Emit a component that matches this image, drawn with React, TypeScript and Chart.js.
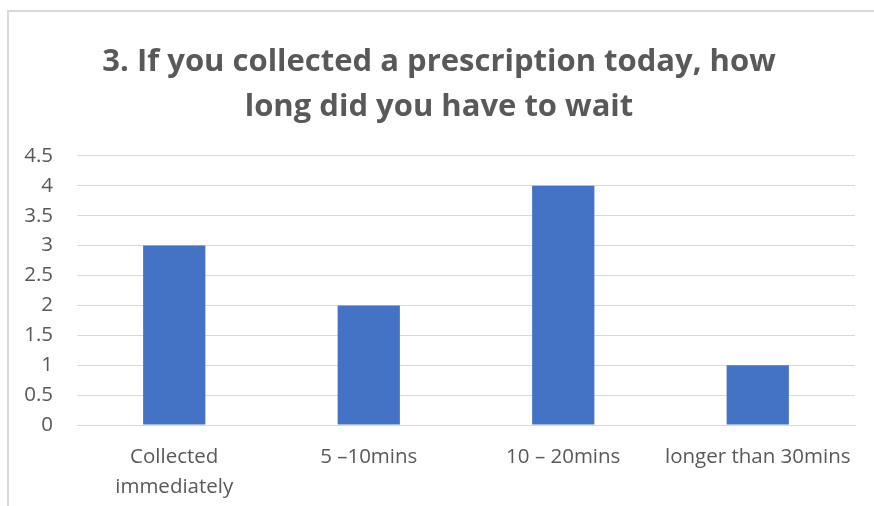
import React, { useEffect, useRef } from "react";
import { Chart, registerables } from "chart.js";

Chart.register(...registerables);

const titleLines = ["3. If you collected a prescription today, how", "long did you have to wait"];
const categories: (string | string[])[] = [["Collected", "immediately"], "5 \u201310mins", "10 \u2013 20mins", "longer than 30mins"];
const values = [3, 2, 4, 1];
const yMin = 0;
const yMax = 4.5;
const yStep = 0.5;

export default function App() {
  const ref = useRef<HTMLCanvasElement>(null);
  useEffect(() => {
    if (!ref.current) return;
    const chart = new Chart(ref.current, {
      type: "bar",
      data: {
        labels: categories,
        datasets: [
          {
            data: values,
            backgroundColor: "#4472C4",
            borderWidth: 0,
            categoryPercentage: 1,
            barPercentage: 0.32,
          },
        ],
      },
      options: {
        animation: false,
        responsive: false,
        layout: { padding: { left: 14, right: 14, top: 28, bottom: 4 } },
        plugins: {
          legend: { display: false },
          tooltip: { enabled: false },
          title: {
            display: true,
            text: titleLines,
            color: "#595959",
            font: { family: "'Open Sans', sans-serif", size: 31, weight: "bold", lineHeight: 1.45 },
            padding: { top: 0, bottom: 26 },
          },
        },
        scales: {
          x: {
            grid: { display: false },
            border: { display: true, color: "#d9d9d9", width: 1 },
            ticks: {
              color: "#595959",
              font: { family: "'Open Sans', sans-serif", size: 20.5, lineHeight: 30 / 20.5 },
              padding: 9,
              maxRotation: 0,
              autoSkip: false,
            },
            afterFit: (s: any) => {
              s.paddingLeft = 0;
              s.paddingRight = 0;
            },
          },
          y: {
            min: yMin,
            max: yMax,
            grid: { color: "#d9d9d9", drawTicks: false },
            border: { display: false },
            ticks: {
              stepSize: yStep,
              color: "#595959",
              font: { family: "'Open Sans', sans-serif", size: 20.5 },
              padding: 24,
              callback: (v: any) => String(Number(v)),
            },
            afterFit: (s: any) => {
              s.width = 54;
            },
          },
        },
      },
    });
    return () => chart.destroy();
  }, []);
  return (
    <div
      style={{
        position: "absolute",
        left: 7,
        top: 10,
        width: 880,
        height: 540,
        border: "2px solid #d9d9d9",
        boxSizing: "border-box",
        background: "#fff",
      }}
    >
      <canvas ref={ref} width={860} height={503} style={{ display: "block" }} />
    </div>
  );
}
